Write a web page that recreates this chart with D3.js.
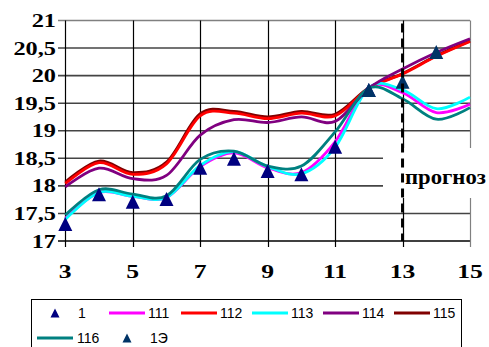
<!DOCTYPE html>
<html>
<head>
<meta charset="utf-8">
<script src="https://cdn.jsdelivr.net/npm/d3@7"></script>
<style>
  html, body { margin: 0; padding: 0; background: #fff; }
  svg { display: block; }
</style>
</head>
<body>
<svg id="chart" width="489" height="347"></svg>
<script>
// Months (x) and observed / modelled series
const xs = [3, 4, 5, 6, 7, 8, 9, 10, 11, 12, 13, 14, 15];
const s111 = [17.41, 17.88, 17.81, 17.79, 18.35, 18.60, 18.33, 18.24, 18.80, 19.78, 19.69, 19.33, 19.48];
const s112 = [18.04, 18.42, 18.21, 18.40, 19.27, 19.32, 19.22, 19.32, 19.27, 19.77, 20.03, 20.35, 20.62];
const s113 = [17.39, 17.88, 17.81, 17.79, 18.37, 18.62, 18.35, 18.22, 18.70, 19.78, 19.74, 19.40, 19.61];
const s114 = [17.98, 18.32, 18.13, 18.19, 18.92, 19.20, 19.15, 19.25, 19.17, 19.77, 20.12, 20.42, 20.67];
const s115 = [18.07, 18.45, 18.24, 18.43, 19.31, 19.35, 19.25, 19.35, 19.30, 19.78, 20.04, 20.36, 20.63];
const s116 = [17.47, 17.93, 17.85, 17.82, 18.48, 18.63, 18.36, 18.36, 18.98, 19.77, 19.58, 19.21, 19.42];
const obsX = [3, 4, 5, 6, 7, 8, 9, 10, 11, 12];
const obsY = [17.31, 17.85, 17.71, 17.76, 18.33, 18.49, 18.27, 18.21, 18.71, 19.74];
const estX = [12, 13, 14];
const estY = [19.74, 19.89, 20.43];
const yTicks = [17, 17.5, 18, 18.5, 19, 19.5, 20, 20.5, 21];
const xTicks = [3, 5, 7, 9, 11, 13, 15];
const forecastX = 13;
const forecastLabel = "прогноз";

// drawing order: the dark-red band sits beneath the red one
const lines = [
  { name: "115", values: s115, color: "#800000" },
  { name: "111", values: s111, color: "#FF00FF" },
  { name: "112", values: s112, color: "#FF0000" },
  { name: "113", values: s113, color: "#00FFFF" },
  { name: "114", values: s114, color: "#800080" },
  { name: "116", values: s116, color: "#008080" }
];

const svg = d3.select("#chart");
svg.append("rect").attr("width", 489).attr("height", 347).attr("fill", "#fff");

const x = d3.scaleLinear().domain([3, 15]).range([65.3, 470]);
const y = d3.scaleLinear().domain([17, 21]).range([241, 20.5]);

const grid = svg.append("g");
// horizontal grid lines, extending left as tick marks
grid.selectAll("line.h").data(yTicks).join("line")
  .attr("x1", 58).attr("x2", x(15))
  .attr("y1", d => y(d)).attr("y2", d => y(d))
  .attr("stroke", d => d === 21 ? "#808080" : (d === 17 ? "#000" : "#444"))
  .attr("stroke-width", 1.6);
// vertical grid lines, extending below as tick marks
grid.selectAll("line.v").data(xTicks).join("line")
  .attr("x1", d => Math.round(x(d)) + 0.5).attr("x2", d => Math.round(x(d)) + 0.5)
  .attr("y1", y(21)).attr("y2", y(17) + 6)
  .attr("stroke", d => d === 15 ? "#808080" : "#000")
  .attr("stroke-width", 1.2);

// blank panel behind the forecast caption
svg.append("rect")
  .attr("x", 383).attr("y", 148).attr("width", 106).attr("height", 50)
  .attr("fill", "#fff");

// smoothed series
const line = d3.line()
  .x((d, i) => x(xs[i]))
  .y(d => y(d))
  .curve(d3.curveCardinal.tension(0));

svg.append("g").selectAll("path").data(lines).join("path")
  .attr("d", d => line(d.values))
  .attr("fill", "none")
  .attr("stroke", d => d.color)
  .attr("stroke-width", 2.8)
  .attr("stroke-linejoin", "round");

// triangle markers
const tri = (s) => `M0,${-s / 2}L${s / 2},${s / 2}L${-s / 2},${s / 2}Z`;
svg.append("g").selectAll("path").data(obsX).join("path")
  .attr("transform", (d, i) => `translate(${x(d)},${y(obsY[i])})`)
  .attr("d", tri(14))
  .attr("fill", "#000080");
svg.append("g").selectAll("path").data(estX).join("path")
  .attr("transform", (d, i) => `translate(${x(d)},${y(estY[i])})`)
  .attr("d", tri(14))
  .attr("fill", "#003366");

// forecast boundary
svg.append("line")
  .attr("x1", x(forecastX)).attr("x2", x(forecastX))
  .attr("y1", y(21) + 3).attr("y2", y(17))
  .attr("stroke", "#000").attr("stroke-width", 3)
  .attr("stroke-dasharray", "9,6");

// widened serif text helper
function wideText(sel, factor) {
  sel.each(function () {
    const w = this.getComputedTextLength();
    d3.select(this).attr("textLength", w * factor).attr("lengthAdjust", "spacingAndGlyphs");
  });
}

svg.append("text")
  .attr("x", 405).attr("y", 183.5)
  .attr("font-family", "Liberation Serif, Times New Roman, serif")
  .attr("font-weight", "bold").attr("font-size", 21)
  .attr("fill", "#000")
  .text(forecastLabel)
  .call(wideText, 1.08);

const fmt = d => String(d).replace(".", ",");
svg.append("g").selectAll("text").data(yTicks).join("text")
  .attr("x", 56).attr("y", d => y(d) + 6.5)
  .attr("text-anchor", "end")
  .attr("font-family", "Liberation Serif, Times New Roman, serif")
  .attr("font-weight", "bold").attr("font-size", 18)
  .attr("fill", "#000")
  .text(fmt)
  .call(wideText, 1.35);

svg.append("g").selectAll("text").data(xTicks).join("text")
  .attr("x", d => x(d)).attr("y", 278)
  .attr("text-anchor", "middle")
  .attr("font-family", "Liberation Serif, Times New Roman, serif")
  .attr("font-weight", "bold").attr("font-size", 19)
  .attr("fill", "#000")
  .text(d => d)
  .call(wideText, 1.35);

// legend
const legend = svg.append("g");
legend.append("rect")
  .attr("x", 31.5).attr("y", 299.5).attr("width", 430).attr("height", 60)
  .attr("fill", "#fff").attr("stroke", "#000").attr("stroke-width", 1);

const legendItems = [
  { label: "1", type: "tri", color: "#000080", x: 55, y: 313, tx: 78 },
  { label: "111", type: "line", color: "#FF00FF", x: 109, y: 313, tx: 148 },
  { label: "112", type: "line", color: "#FF0000", x: 181, y: 313, tx: 220 },
  { label: "113", type: "line", color: "#00FFFF", x: 252, y: 313, tx: 291 },
  { label: "114", type: "line", color: "#800080", x: 323, y: 313, tx: 362 },
  { label: "115", type: "line", color: "#800000", x: 394, y: 313, tx: 433 },
  { label: "116", type: "line", color: "#008080", x: 37, y: 338, tx: 77 },
  { label: "1Э", type: "tri", color: "#003366", x: 127, y: 338, tx: 150 }
];
const li = legend.selectAll("g").data(legendItems).join("g");
li.filter(d => d.type === "line").append("line")
  .attr("x1", d => d.x).attr("x2", d => d.x + 36)
  .attr("y1", d => d.y).attr("y2", d => d.y)
  .attr("stroke", d => d.color).attr("stroke-width", 3);
li.filter(d => d.type === "tri").append("path")
  .attr("transform", d => `translate(${d.x},${d.y})`)
  .attr("d", tri(9))
  .attr("fill", d => d.color);
li.append("text")
  .attr("x", d => d.tx).attr("y", d => d.y + 5)
  .attr("font-family", "Liberation Sans, Arial, sans-serif")
  .attr("font-size", 14)
  .attr("fill", "#000")
  .text(d => d.label);
</script>
</body>
</html>
